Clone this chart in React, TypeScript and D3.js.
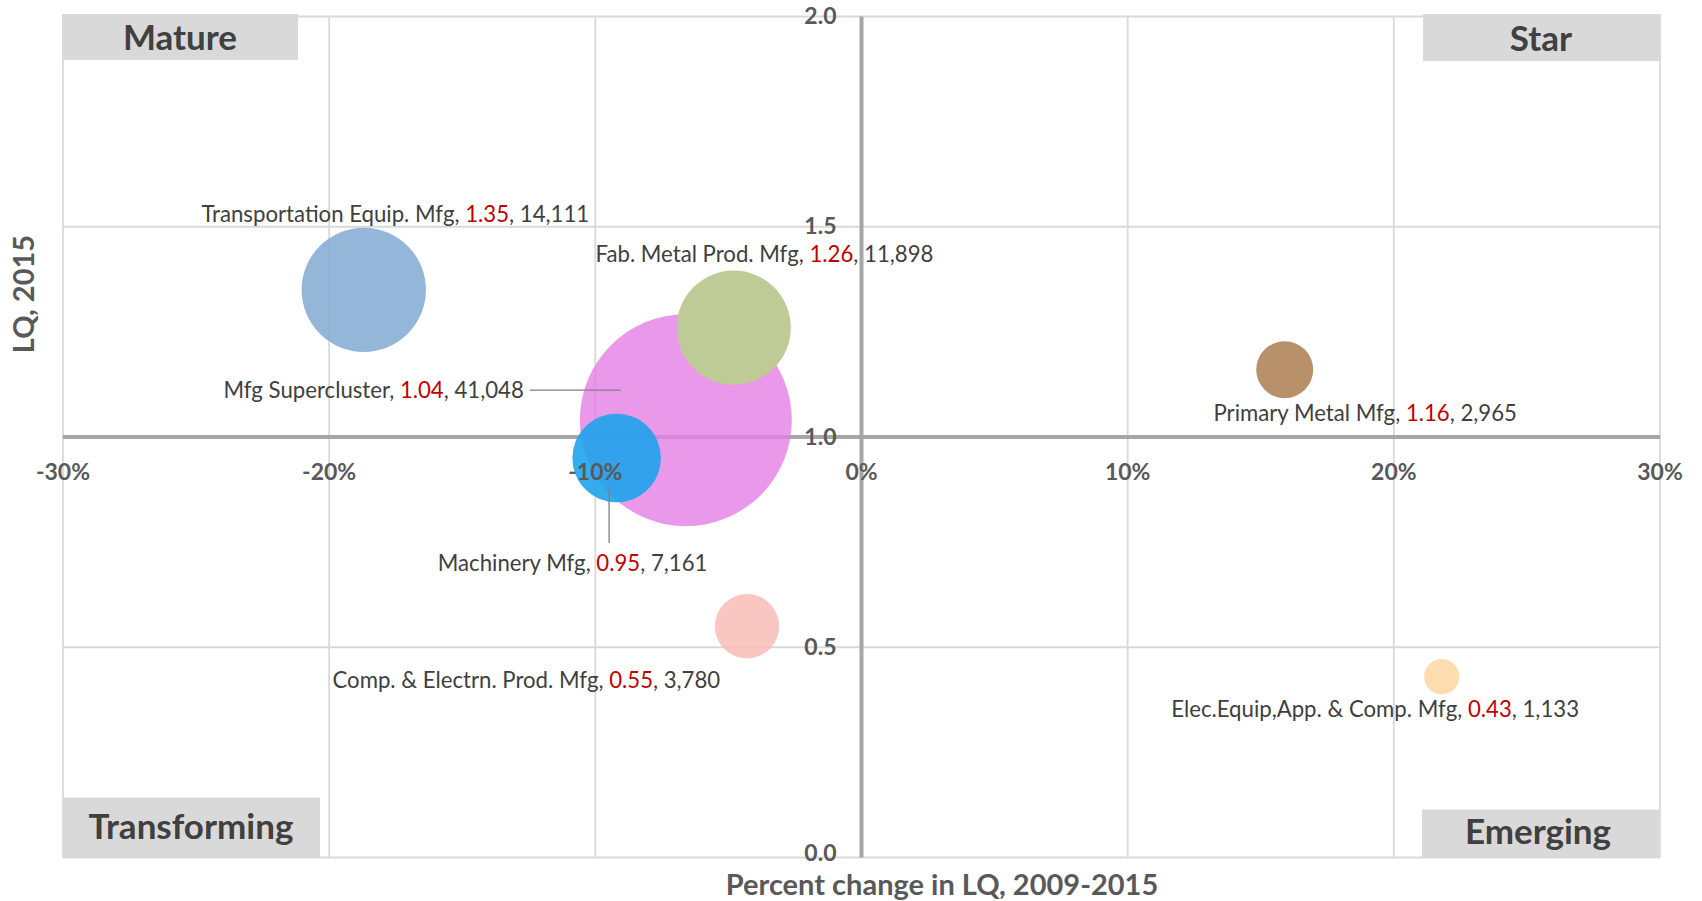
import React from 'react';
import * as d3 from 'd3';

// ---------- data ----------
const clusters = [
  'Transportation Equip. Mfg',
  'Mfg Supercluster',
  'Fab. Metal Prod. Mfg',
  'Machinery Mfg',
  'Comp. & Electrn. Prod. Mfg',
  'Primary Metal Mfg',
  'Elec.Equip,App. & Comp. Mfg',
];
const pctChangeLQ = [-18.7, -6.6, -4.8, -9.2, -4.3, 15.9, 21.8];
const lq2015 = [1.35, 1.04, 1.26, 0.95, 0.55, 1.16, 0.43];
const employment = [14111, 41048, 11898, 7161, 3780, 2965, 1133];

const xTicks = [-30, -20, -10, 0, 10, 20, 30];
const yTicks = [0, 0.5, 1.0, 1.5, 2.0];
const quadrantNames = ['Mature', 'Star', 'Transforming', 'Emerging'];
const xTitle = 'Percent change in LQ, 2009-2015';
const yTitle = 'LQ, 2015';

// ---------- styles / layout ----------
const W = 1702;
const H = 901;
const PLOT = { left: 63, right: 1660, top: 16.5, bottom: 857.5 };
const FONT = 'Lato, "Open Sans", sans-serif';

const bubbleFill = ['#80a9d2', '#e580e5', '#bfcb97', '#1fa3ec', '#f8bcb7', '#b08459', '#fdd6a2'];
const bubbleOpacity = [0.85, 0.8, 1, 0.9, 0.85, 0.9, 0.85];

// label offsets from bubble centre: [dx, dy(baseline), anchor]
const labelLayout: [number, number, string][] = [
  [31.5, -68, 'middle'],
  [-162, -22, 'end'],
  [30.7, -66, 'middle'],
  [-44, 113, 'middle'],
  [-220.7, 62, 'middle'],
  [80.5, 51, 'middle'],
  [-66.6, 40, 'middle'],
];
// leader lines [x1,y1,x2,y2] relative to bubble centre
const leaderLayout: ([number, number, number, number] | null)[] = [
  null,
  [-156, -30, -65, -30],
  null,
  [-7.5, 28, -7.5, 85],
  null,
  null,
  null,
];

const fmt = d3.format(',');

export default function App() {
  const x = d3.scaleLinear().domain([-30, 30]).range([PLOT.left, PLOT.right]);
  const y = d3.scaleLinear().domain([0, 2]).range([PLOT.bottom, PLOT.top]);
  const r = d3.scaleSqrt().domain([0, d3.max(employment) as number]).range([0, 106]);

  const quadBoxes = [
    { x: PLOT.left - 1, y: 14, w: 236, h: 46, tx: 180, ty: 50 },
    { x: PLOT.right - 237, y: 14, w: 238, h: 47, tx: 1541, ty: 51 },
    { x: PLOT.left, y: PLOT.bottom - 60, w: 257, h: 60, tx: 191, ty: 839 },
    { x: PLOT.right - 238, y: PLOT.bottom - 48, w: 237, h: 48, tx: 1538, ty: 844 },
  ];

  return (
    <svg
      width={W}
      height={H}
      style={{ position: 'absolute', left: 0, top: 0, background: '#fff' }}
      fontFamily={FONT}
    >
      <rect x={0} y={0} width={W} height={H} fill="#ffffff" />
      {/* gridlines */}
      {xTicks.filter((t) => t !== 0).map((t) => (
        <line key={'gx' + t} x1={x(t)} x2={x(t)} y1={y(2)} y2={y(0)} stroke="#d9d9d9" strokeWidth={1.8} />
      ))}
      {yTicks.filter((t) => t !== 1).map((t) => (
        <line key={'gy' + t} x1={x(-30)} x2={x(30)} y1={y(t)} y2={y(t)} stroke="#d9d9d9" strokeWidth={1.8} />
      ))}
      {/* axis lines */}
      <line x1={x(0)} x2={x(0)} y1={y(2)} y2={y(0)} stroke="#a6a6a6" strokeWidth={4} />
      <line x1={x(-30)} x2={x(30)} y1={y(1)} y2={y(1)} stroke="#a6a6a6" strokeWidth={4} />

      {/* bubbles */}
      {clusters.map((c, i) => (
        <circle
          key={c}
          cx={x(pctChangeLQ[i])}
          cy={y(lq2015[i])}
          r={r(employment[i])}
          fill={bubbleFill[i]}
          fillOpacity={bubbleOpacity[i]}
        />
      ))}

      {/* leader lines */}
      {clusters.map((c, i) => {
        const l = leaderLayout[i];
        if (!l) return null;
        const cx = x(pctChangeLQ[i]);
        const cy = y(lq2015[i]);
        return (
          <line key={'ll' + c} x1={cx + l[0]} y1={cy + l[1]} x2={cx + l[2]} y2={cy + l[3]} stroke="#7f7f7f" strokeWidth={1.3} />
        );
      })}

      {/* data labels */}
      {clusters.map((c, i) => {
        const [dx, dy, anchor] = labelLayout[i];
        return (
          <text
            key={'lab' + c}
            x={x(pctChangeLQ[i]) + dx}
            y={y(lq2015[i]) + dy}
            textAnchor={anchor}
            fontSize={22.2}
            fill="#404040"
          >
            {c + ', '}
            <tspan fill="#c00000">{lq2015[i].toFixed(2)}</tspan>
            {', ' + fmt(employment[i])}
          </text>
        );
      })}

      {/* quadrant boxes */}
      {quadrantNames.map((q, i) => {
        const b = quadBoxes[i];
        return (
          <g key={q}>
            <rect x={b.x} y={b.y} width={b.w} height={b.h} fill="#d9d9d9" />
            <text x={b.tx} y={b.ty} textAnchor="middle" fontSize={35} fontWeight={700} fill="#404040">
              {q}
            </text>
          </g>
        );
      })}

      {/* tick labels */}
      {xTicks.map((t) => (
        <text key={'tx' + t} x={x(t)} y={y(1) + 35} dy="0.35em" textAnchor="middle" fontSize={23} fontWeight={700} fill="#595959">
          {t + '%'}
        </text>
      ))}
      {yTicks.map((t) => (
        <text key={'ty' + t} x={x(0) - 25} y={y(t)} dy={t === 0 ? '0.17em' : '0.33em'} textAnchor="end" fontSize={23} fontWeight={700} fill="#595959">
          {t.toFixed(1)}
        </text>
      ))}

      {/* axis titles */}
      <text x={942} y={895} textAnchor="middle" fontSize={29} fontWeight={700} fill="#595959">
        {xTitle}
      </text>
      <text transform="translate(34,294) rotate(-90)" textAnchor="middle" fontSize={29} fontWeight={700} fill="#595959">
        {yTitle}
      </text>
    </svg>
  );
}
